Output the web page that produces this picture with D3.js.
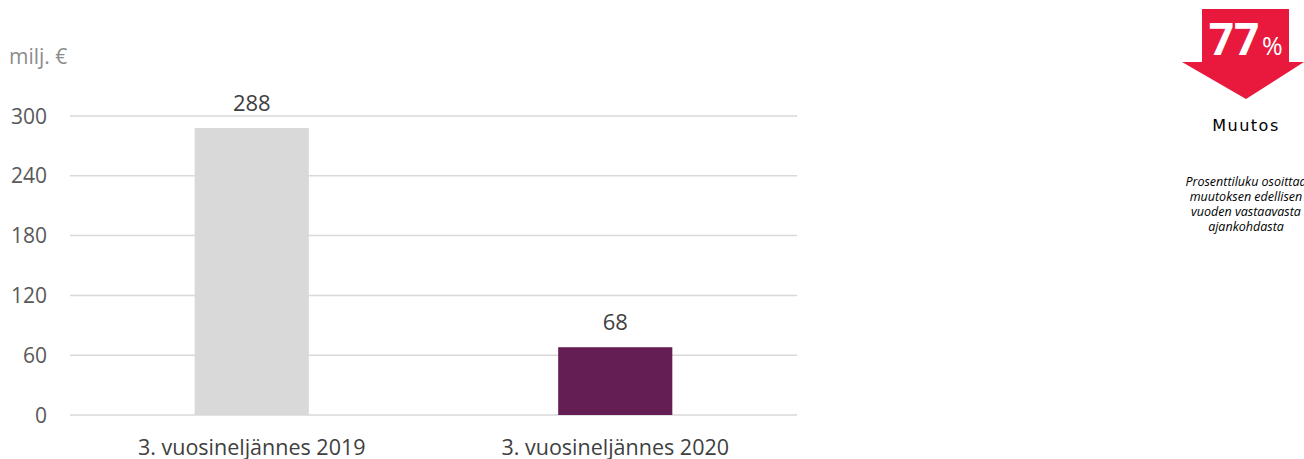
<!DOCTYPE html>
<html><head><meta charset="utf-8">
<script src="https://cdn.jsdelivr.net/npm/d3@7"></script>
<style>body{margin:0;background:#fff}svg{display:block}</style>
</head><body>
<svg id="c" width="1304" height="459"></svg>
<script>
const categories = ["3. vuosineljännes 2019", "3. vuosineljännes 2020"];
const values = [288, 68];
const barColors = ["#d9d9d9", "#651e54"];
const yTicks = [0, 60, 120, 180, 240, 300];
const unitLabel = "milj. €";
const changePct = "77";
const changeLabel = "Muutos";
const noteLines = ["Prosenttiluku osoittaa", "muutoksen edellisen", "vuoden vastaavasta", "ajankohdasta"];

const svg = d3.select("#c");
const x = d3.scaleBand().domain(categories).range([70, 797]).padding(0);
const y = d3.scaleLinear().domain([0, 300]).range([415, 116]);
const font = "'Open Sans', sans-serif";

svg.append("g").selectAll("line").data(yTicks).join("line")
  .attr("x1", 70).attr("x2", 797)
  .attr("y1", d => y(d)).attr("y2", d => y(d))
  .attr("stroke", "#d9d9d9").attr("stroke-width", 1.5);

svg.append("g").selectAll("text").data(yTicks).join("text")
  .attr("x", 47).attr("y", d => y(d)).attr("dy", "0.36em")
  .attr("text-anchor", "end").attr("font-family", font).attr("font-size", 21)
  .attr("fill", "#595959").text(d => d);

svg.append("text").attr("x", 9).attr("y", 64).attr("font-family", font)
  .attr("font-size", 21).attr("fill", "#8c8c8c").text(unitLabel);

const bw = x.bandwidth() * 0.314;
svg.append("g").selectAll("rect").data(values).join("rect")
  .attr("x", (d, i) => x(categories[i]) + x.bandwidth() / 2 - bw / 2)
  .attr("width", bw)
  .attr("y", d => y(d)).attr("height", d => y(0) - y(d))
  .attr("fill", (d, i) => barColors[i]);

svg.append("g").selectAll("text").data(values).join("text")
  .attr("x", (d, i) => x(categories[i]) + x.bandwidth() / 2)
  .attr("y", d => y(d) - 17)
  .attr("text-anchor", "middle").attr("font-family", font).attr("font-size", 22)
  .attr("fill", "#404040").text(d => d);

svg.append("g").selectAll("text").data(categories).join("text")
  .attr("x", d => x(d) + x.bandwidth() / 2).attr("y", 455)
  .attr("text-anchor", "middle").attr("font-family", font).attr("font-size", 21.5)
  .attr("fill", "#404040").text(d => d);

// arrow badge
const cx = 1246;
svg.append("path")
  .attr("d", `M1202,9 L1289,9 L1289,62 L1304,62 L${cx},99 L1182,62 L1202,62 Z`)
  .attr("fill", "#e8193c");
svg.append("text").attr("x", 1234).attr("y", 55).attr("text-anchor", "middle")
  .attr("font-family", font).attr("fill", "#fff")
  .attr("font-size", 44).attr("font-weight", 700).text(changePct);
svg.append("text").attr("x", 1262).attr("y", 55)
  .attr("font-family", font).attr("fill", "#fff").attr("font-size", 25).text("%");

svg.append("text").attr("x", cx).attr("y", 131).attr("text-anchor", "middle")
  .attr("font-family", "'DejaVu Sans', sans-serif").attr("font-size", 16)
  .attr("letter-spacing", 1.5).attr("fill", "#000").text(changeLabel);

svg.append("g").selectAll("text").data(noteLines).join("text")
  .attr("x", cx).attr("y", (d, i) => 186 + i * 15)
  .attr("text-anchor", "middle").attr("font-family", font).attr("font-style", "italic")
  .attr("font-size", 12.5).attr("fill", "#000").text(d => d);
</script>
</body></html>
